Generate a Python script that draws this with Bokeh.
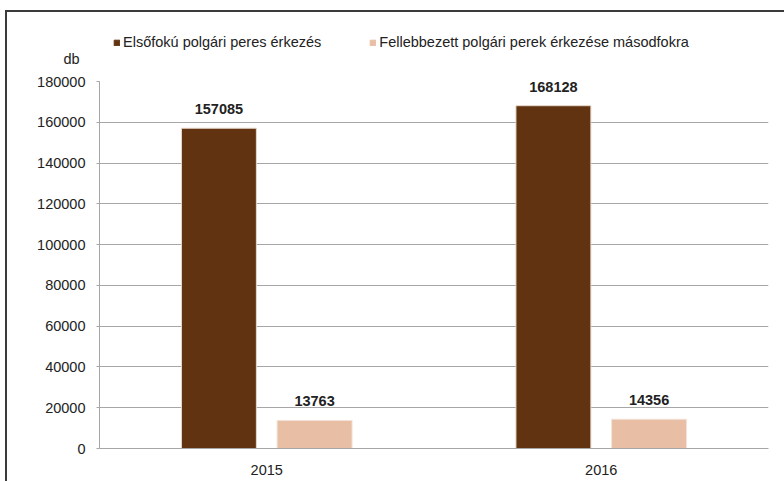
from bokeh.plotting import figure
from bokeh.layouts import column
from bokeh.models import (ColumnDataSource, FactorRange, Legend, LegendItem, LabelSet,
                          Label, NumeralTickFormatter, FixedTicker)
from bokeh.core.properties import value
from bokeh.transform import dodge
from bokeh.embed import file_html
from bokeh.resources import INLINE

years = ["2015", "2016"]
first_instance = [157085, 168128]
appeals = [13763, 14356]
series_names = ["Elsőfokú polgári peres érkezés",
                "Fellebbezett polgári perek érkezése másodfokra"]
y_ticks = [0, 20000, 40000, 60000, 80000, 100000, 120000, 140000, 160000, 180000]
unit_label = "db"

FONT = "Liberation Sans"
FS = "14.5px"
BROWN = "#623311"
LIGHT = "#E8BEA4"
TXT = "#222222"
W = 777
HEAD_H = 54

src = ColumnDataSource(dict(year=years, a=first_instance, b=appeals,
                            a_txt=[str(v) for v in first_instance],
                            b_txt=[str(v) for v in appeals]))

# ---- header: legend + unit label ----
head = figure(width=W, height=HEAD_H, x_range=(0, W), y_range=(0, HEAD_H),
              x_axis_type=None, y_axis_type=None, output_backend="svg",
              toolbar_location=None, min_border=0)
head.frame_align = False
head.outline_line_color = None
head.xgrid.grid_line_color = None
head.ygrid.grid_line_color = None
# legend-only renderers (hidden), sharing the chart's data source
da = head.vbar(x="a", top="a", width=1, source=src, fill_color=BROWN, line_color=BROWN,
               visible=False)
db = head.vbar(x="b", top="b", width=1, source=src, fill_color=LIGHT, line_color=LIGHT,
               visible=False)
legend = Legend(items=[LegendItem(label=series_names[0], renderers=[da]),
                       LegendItem(label=series_names[1], renderers=[db])],
                orientation="horizontal", location=(106, 16),
                glyph_width=7, glyph_height=7, label_standoff=3, spacing=48,
                padding=0, margin=0, border_line_color=None, background_fill_alpha=0,
                inactive_fill_alpha=0,
                label_text_font=FONT, label_text_font_size=FS, label_text_color=TXT,
                label_height=16)
head.add_layout(legend, "center")
head.add_layout(Label(x=56, y=8, text=unit_label, text_font=FONT,
                      text_font_size=FS, text_color=TXT, text_baseline="middle"))

# ---- main chart ----
p = figure(x_range=FactorRange(*years, range_padding=0), y_range=(0, 180000),
           width=W, height=469 - HEAD_H, output_backend="svg", toolbar_location=None,
           min_border_left=92, min_border_right=16, min_border_top=69 - HEAD_H,
           min_border_bottom=33)
p.frame_align = False
p.outline_line_color = None
p.background_fill_color = "white"
p.border_fill_color = "white"

p.vbar(x=dodge("year", -0.143, range=p.x_range), top="a", width=0.224, source=src,
       fill_color=BROWN, line_color="#e8d8cc", line_width=1)
p.vbar(x=dodge("year", 0.143, range=p.x_range), top="b", width=0.224, source=src,
       fill_color=LIGHT, line_color="#f2e2d8", line_width=1)

for col, off in (("a", -0.143), ("b", 0.143)):
    p.add_layout(LabelSet(x=dodge("year", off, range=p.x_range), y=col, text=col + "_txt",
                          source=src, text_align="center", text_baseline="middle", y_offset=19,
                          text_font=value(FONT), text_font_size=value(FS),
                          text_font_style="bold", text_color=TXT))

p.xgrid.grid_line_color = None
p.ygrid.grid_line_color = "#a6a6a6"
p.ygrid.grid_line_width = 1
p.yaxis.ticker = FixedTicker(ticks=y_ticks)
p.yaxis.formatter = NumeralTickFormatter(format="0")
p.yaxis.axis_line_color = "#a6a6a6"
p.yaxis.major_tick_line_color = "#a6a6a6"
p.yaxis.major_tick_out = 3
p.yaxis.major_tick_in = 0
p.yaxis.minor_tick_line_color = None
p.yaxis.major_label_standoff = 11
p.xaxis.axis_line_color = "#a6a6a6"
p.xaxis.major_tick_line_color = None
p.xaxis.major_label_standoff = 10
for ax in (p.xaxis, p.yaxis):
    ax.major_label_text_font = FONT
    ax.major_label_text_font_size = FS
    ax.major_label_text_color = TXT

layout = column(head, p, spacing=0,
                styles={"margin-left": "5px", "margin-top": "10px",
                        "border-left": "2px solid #3a3a3a", "border-top": "2px solid #3a3a3a"})

open("out.html", "w").write(file_html(layout, INLINE))
